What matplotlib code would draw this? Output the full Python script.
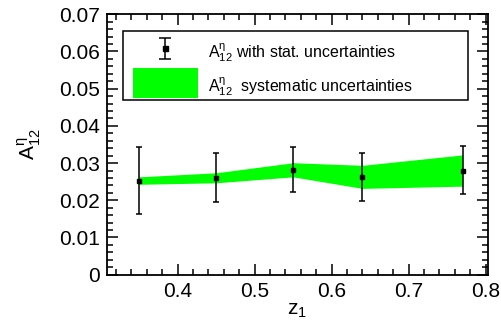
import matplotlib
matplotlib.use("Agg")
import matplotlib.pyplot as plt
import numpy as np
from matplotlib.patches import Patch
from matplotlib.container import ErrorbarContainer
from matplotlib.legend_handler import HandlerErrorbar, HandlerPatch
from matplotlib.ticker import MultipleLocator
from matplotlib.transforms import Affine2D

# values
z1 = [0.35, 0.45, 0.55, 0.64, 0.77]
a12 = [0.0252, 0.0261, 0.0281, 0.0263, 0.0280]
stat_hi = [0.0342, 0.0326, 0.0342, 0.0328, 0.0345]
stat_lo = [0.0162, 0.0195, 0.0221, 0.0198, 0.0216]
sys_hi = [0.0263, 0.0274, 0.0301, 0.0294, 0.0322]
sys_lo = [0.0243, 0.0247, 0.0263, 0.0232, 0.0238]

plt.rcParams['font.family'] = ['Liberation Sans', 'DejaVu Sans']
plt.rcParams['mathtext.fontset'] = 'custom'
plt.rcParams['mathtext.rm'] = 'Liberation Sans'
plt.rcParams['mathtext.it'] = 'Liberation Sans'
plt.rcParams['mathtext.bf'] = 'Liberation Sans'


class CenteredErrorbar(HandlerErrorbar):
    # put the key marker in the middle of the legend row
    def create_artists(self, legend, orig_handle, xdescent, ydescent, width, height, fontsize, trans):
        return super().create_artists(legend, orig_handle, xdescent, ydescent,
                                      width, height - ydescent, fontsize, trans)


fig = plt.figure(figsize=(5.02, 3.25), dpi=100)
ax = fig.add_axes([0.2137, 0.1548, 0.7578, 0.8012])

yerr = [[v - lo for v, lo in zip(a12, stat_lo)], [hi - v for v, hi in zip(a12, stat_hi)]]

ax.fill_between(z1, sys_lo, sys_hi, color='#00ff00', lw=0)
ax.errorbar(z1, a12, yerr=yerr, fmt='s', color='black', ms=3.2,
            elinewidth=1.1, capsize=2.0, capthick=1.1)

# legend proxy with wider caps, like the reference key
eb_key = ax.errorbar([np.nan], [np.nan], yerr=[0.0], fmt='s', color='black', ms=3.6,
                     elinewidth=1.1, capsize=4.3, capthick=1.1)

ax.set_xlim(0.3086, 0.8026)
ax.set_ylim(0, 0.07)
ax.xaxis.set_minor_locator(MultipleLocator(0.02))
ax.yaxis.set_minor_locator(MultipleLocator(0.002))
ax.set_xticks([0.4, 0.5, 0.6, 0.7, 0.8])
ax.set_yticks([0, 0.01, 0.02, 0.03, 0.04, 0.05, 0.06, 0.07])
ax.set_yticklabels(['0', '0.01', '0.02', '0.03', '0.04', '0.05', '0.06', '0.07'])
ax.tick_params(which='both', direction='in', top=True, right=True, labelsize=15, width=1.1)
ax.tick_params(which='major', length=8, pad=5)
ax.tick_params(which='minor', length=4)
for s in ax.spines.values():
    s.set_linewidth(1.3)

ax.set_xlabel(r'$\mathrm{z}_{1}$', fontsize=15, labelpad=0)
ax.set_ylabel(r'$\mathrm{A}_{12}^{\eta}$', fontsize=15, labelpad=12)

sys_patch = Patch(facecolor='#00ff00', edgecolor='none')
xp = 0.44
leg = ax.legend([eb_key, sys_patch],
                [r'$\mathrm{A}_{12}^{\eta}$ with stat. uncertainties',
                 r'$\mathrm{A}_{12}^{\eta}$  systematic uncertainties'],
                handler_map={ErrorbarContainer: CenteredErrorbar(xerr_size=0.4, yerr_size=0.66, xpad=xp),
                             Patch: HandlerPatch(xpad=xp)},
                loc='upper left', bbox_to_anchor=(0.042, 0.671, 0.907, 0.265),
                mode='expand', borderaxespad=0, fontsize=11.5, handlelength=4.1 + xp,
                handleheight=2.5, handletextpad=0.6, borderpad=0.15, labelspacing=0.3,
                fancybox=False, framealpha=1, edgecolor='black')
leg.get_frame().set_linewidth(1.1)
for t in leg.get_texts():
    t.set_transform(t.get_transform() + Affine2D().translate(0, -4))

fig.savefig('out.png', dpi=100)
